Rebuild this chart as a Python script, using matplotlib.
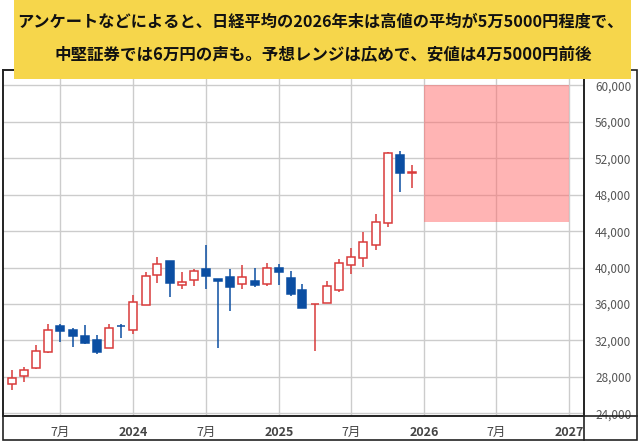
import datetime as dt
import matplotlib
matplotlib.use('Agg')
import matplotlib.pyplot as plt
import matplotlib.dates as mdates
from matplotlib.patches import Rectangle
from matplotlib.lines import Line2D
from matplotlib.ticker import FuncFormatter

plt.rcParams['font.family'] = ['Noto Sans CJK JP', 'DejaVu Sans']

# monthly candles, Nikkei 225
months = ['2023-03', '2023-04', '2023-05', '2023-06', '2023-07', '2023-08', '2023-09',
          '2023-10', '2023-11', '2023-12', '2024-01', '2024-02', '2024-03', '2024-04',
          '2024-05', '2024-06', '2024-07', '2024-08', '2024-09', '2024-10', '2024-11',
          '2024-12', '2025-01', '2025-02', '2025-03', '2025-04', '2025-05', '2025-06',
          '2025-07', '2025-08', '2025-09', '2025-10', '2025-11', '2025-12']
opens = [27230, 28110, 29000, 30710, 33540, 33180, 32440, 32080, 31200, 33580,
         33180, 35930, 39240, 40670, 38140, 38690, 39790, 38800, 39020, 38250,
         38510, 38250, 39900, 38910, 37590, 36000, 36150, 37580, 40300, 41040,
         42440, 44860, 52390, 50430]
highs = [28700, 29130, 31530, 33760, 33760, 33400, 33650, 32550, 33840, 33760,
         36960, 39500, 41110, 40700, 39500, 39800, 42500, 38800, 39790, 40230,
         39900, 40450, 40340, 39600, 38250, 36050, 38500, 40890, 42140, 43900,
         45850, 52650, 52830, 51260]
lows = [26570, 27450, 28900, 30600, 31810, 31260, 31650, 30530, 31150, 32300,
        32740, 35900, 38320, 36770, 37650, 37950, 37650, 31200, 35230, 37650,
        37880, 37990, 38140, 36880, 35550, 30820, 36100, 37370, 39310, 40010,
        41950, 44480, 48340, 48780]
closes = [27900, 28770, 30790, 33180, 33030, 32480, 31700, 30710, 33400, 33560,
          36220, 39130, 40340, 38320, 38470, 39600, 39090, 38580, 37880, 39020,
          38140, 39900, 39530, 37150, 35600, 36050, 37950, 40450, 41110, 42770,
          44970, 52570, 50370, 50480]

# 2026 forecast range
forecast_start = '2026-01'
forecast_end = '2027-01'
forecast_low = 45000
forecast_high = 60000

tick_dates = ['2023-07', '2024-01', '2024-07', '2025-01', '2025-07', '2026-01', '2026-07', '2027-01']
tick_labels = ['7月', '2024', '7月', '2025', '7月', '2026', '7月', '2027']

title_lines = ['アンケートなどによると、日経平均の2026年末は高値の平均が5万5000円程度で、',
               '中堅証券では6万円の声も。予想レンジは広めで、安値は4万5000円前後']

RED = '#d93a3a'
BLUE = '#0b4ea2'
W, H = 640, 442


def mdate(s):
    y, m = s.split('-')
    return mdates.date2num(dt.datetime(int(y), int(m), 1))


fig = plt.figure(figsize=(6.4, 4.42), dpi=100)
ax = fig.add_axes([3 / W, (H - 416) / H, (584 - 3) / W, (416 - 70) / H])

x = [mdate(m) for m in months]
body_w = 20
for xi, o, h, l, c in zip(x, opens, highs, lows, closes):
    up = c >= o
    col = RED if up else BLUE
    ax.vlines(xi, l, h, color=col, lw=1.1, zorder=3)
    bottom = min(o, c)
    height = max(abs(c - o), 40)
    ax.bar(xi, height, bottom=bottom, width=body_w,
           facecolor='white' if up else BLUE, edgecolor=col, lw=1.1, zorder=4)

fx0, fx1 = mdate(forecast_start), mdate(forecast_end)
ax.add_patch(Rectangle((fx0, forecast_low), fx1 - fx0, forecast_high - forecast_low,
                       facecolor='#ff6a6a', alpha=0.5, lw=0, zorder=2))

ax.set_xlim(mdates.date2num(dt.datetime(2023, 2, 7)), mdates.date2num(dt.datetime(2027, 2, 7)))
ax.set_ylim(23700, 61700)

ax.set_xticks([mdate(d) for d in tick_dates])
ax.set_xticklabels(tick_labels)
for lab in ax.get_xticklabels():
    if lab.get_text() != '7月':
        lab.set_fontweight('bold')
ax.set_yticks(range(24000, 60001, 4000))
ax.yaxis.set_major_formatter(FuncFormatter(lambda v, p: f'{int(v):,}'))
ax.yaxis.tick_right()
ax.tick_params(axis='y', length=0, pad=8, labelsize=8.5, labelcolor='#555555')
ax.tick_params(axis='x', length=0, pad=7, labelsize=9, labelcolor='#444444')
ax.grid(True, color='#cccccc', lw=1, zorder=1)
ax.set_axisbelow(True)
for sp in ax.spines.values():
    sp.set_color('#222222')
    sp.set_linewidth(1.2)


def fx(px):
    return px / W


def fy(py):
    return 1 - py / H


# outer frame and dividers
fig.add_artist(Rectangle((fx(3), fy(440)), fx(637) - fx(3), fy(70) - fy(440),
                         transform=fig.transFigure, fill=False, ec='#222222', lw=1.2, zorder=4))
fig.add_artist(Line2D([fx(3), fx(637)], [fy(416), fy(416)], transform=fig.transFigure,
                      color='#222222', lw=1.2, zorder=4))
fig.add_artist(Line2D([fx(584), fx(584)], [fy(70), fy(440)], transform=fig.transFigure,
                      color='#222222', lw=1.2, zorder=4))

# yellow banner
fig.add_artist(Rectangle((fx(14), fy(79)), fx(631) - fx(14), fy(0) - fy(79),
                         transform=fig.transFigure, facecolor='#f6d64b', lw=0, zorder=5))
fig.text(fx(320), fy(22), title_lines[0], ha='center', va='center', fontsize=11.7,
         fontweight='bold', color='#111111', zorder=6)
fig.text(fx(323), fy(55), title_lines[1], ha='center', va='center', fontsize=11.9,
         fontweight='bold', color='#111111', zorder=6)

fig.savefig('out.png', dpi=100)
